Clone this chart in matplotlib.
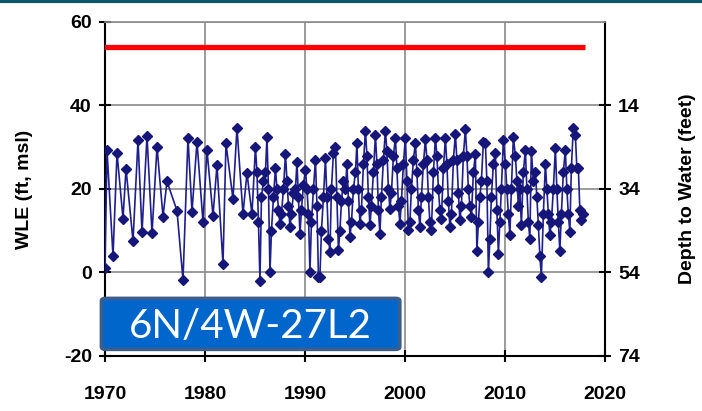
import matplotlib
matplotlib.use("Agg")
from matplotlib import pyplot as plt
from matplotlib.patches import FancyBboxPatch
from matplotlib.lines import Line2D

plt.rcParams["axes.unicode_minus"] = False

# sparse record 1969-1984 (decimal year, water level elevation ft msl)
early_dates = [1969.6, 1970.0, 1970.2, 1970.8, 1971.2, 1971.8, 1972.1, 1972.8,
               1973.3, 1973.7, 1974.2, 1974.7, 1975.2, 1975.8, 1976.2, 1977.2,
               1977.8, 1978.3, 1978.7, 1979.2, 1979.8, 1980.2, 1980.8, 1981.2,
               1981.8, 1982.1, 1982.8, 1983.2, 1983.8, 1984.2, 1984.7]
early_wle = [23, 1.0, 29.3, 3.9, 28.6, 12.9, 24.9, 7.5,
             31.7, 9.7, 32.7, 9.4, 30.1, 13.4, 21.8, 14.8,
             -1.8, 32.3, 14.5, 31.3, 12.1, 29.3, 13.6, 25.7,
             2.0, 30.9, 17.6, 34.6, 14.0, 23.8, 14.0]

# denser record from 1985, six readings a year
sample_fracs = [0.05, 0.2, 0.35, 0.5, 0.65, 0.85]
dense_wle = {
    1985: [30, 24, 12, -2, 18, 22],
    1986: [24, 32.5, 20, 0, 10, 18],
    1987: [25, 20, 15, 11.7, 14, 20],
    1988: [28.3, 22, 16, 10.9, 14, 19],
    1989: [20, 26.4, 18, 9.3, 15, 21],
    1990: [24.6, 20, 14, 0, 12, 20],
    1991: [27, 16, -1, -1, 10, 18],
    1992: [27.3, 18, 8, 5, 20, 28.7],
    1993: [30, 18, 5.3, 10, 17, 22],
    1994: [20, 26, 17, 8.5, 12, 20],
    1995: [24, 30.9, 20, 11.7, 15, 26],
    1996: [34, 28, 18, 11.3, 16, 24],
    1997: [32.9, 26, 15, 9.3, 18, 27],
    1998: [34, 29, 20, 15.2, 19, 28],
    1999: [32.3, 25, 16, 11.7, 17, 26],
    2000: [32.3, 22, 10.1, 12, 20, 27],
    2001: [31.1, 24, 15, 10.9, 18, 26],
    2002: [31.9, 27, 18, 12, 10.1, 24],
    2003: [32.3, 28, 20, 15, 12.9, 25],
    2004: [32.1, 26, 17, 10.9, 14, 27],
    2005: [33.1, 27, 19, 12.5, 16, 28],
    2006: [34.4, 28, 20, 16, 13.3, 24],
    2007: [28.3, 5.1, 12, 18, 22, 31.3],
    2008: [31, 22, 0, 8, 18, 26],
    2009: [28.7, 15, 4.5, 12, 20, 31.7],
    2010: [26, 20, 14, 8.9, 20, 32.5],
    2011: [28, 22, 16, 20, 11.3, 24],
    2012: [29.4, 20, 12, 8.1, 29, 22],
    2013: [24, 18, 11.3, 4, -1, 14],
    2014: [26, 20, 14, 8.9, 12, 20],
    2015: [29.8, 20, 12, 5.1, 14, 24],
    2016: [29.4, 20, 14, 9.8, 25, 34.7],
    2017: [33, 25, 25, 15, 12.5, 14],
}

ground_surface = 54
ground_span = [1969.7, 2018.0]
well_name = "6N/4W-27L2"
x_ticks = [1970, 1980, 1990, 2000, 2010, 2020]
y_ticks = [-20, 0, 20, 40, 60]
depth_ticks = [14, 34, 54, 74]

dates = list(early_dates)
wle = list(early_wle)
for yr, vals in dense_wle.items():
    for f, v in zip(sample_fracs, vals):
        dates.append(yr + f)
        wle.append(v)

fig = plt.figure(figsize=(7.02, 4.11), dpi=100)
ax = fig.add_axes([0.1496, 0.134, 0.712, 0.8125])

ax.plot(ground_span, [ground_surface, ground_surface], color="red", lw=3.8,
        solid_capstyle="butt", zorder=3)
ax.plot(dates, wle, color="#1e1e8c", lw=1.2, marker="D", ms=5.2,
        mfc="#15157a", mec="#15157a", zorder=4)

ax.set_xlim(1970, 2020)
ax.set_ylim(-20, 60)
ax.set_xticks(x_ticks)
ax.set_yticks(y_ticks)
ax.grid(True, color="#8a8a8a", lw=1.2)
ax.set_axisbelow(True)

for side in ["left", "bottom", "right"]:
    ax.spines[side].set_linewidth(1.5)
    ax.spines[side].set_color("black")
ax.spines["top"].set_color("#8a8a8a")
ax.spines["top"].set_linewidth(1.2)

tick_font = dict(fontweight="bold", fontsize=14, family="Liberation Sans")
ax.tick_params(direction="inout", length=9, width=1.5, pad=5)
ax.tick_params(axis="x", pad=17)
for lab in ax.get_xticklabels() + ax.get_yticklabels():
    lab.set(**tick_font)
ax.set_ylabel("WLE (ft, msl)", fontsize=14, fontweight="bold",
              family="Liberation Sans", labelpad=22)

ax2 = ax.twinx()
ax2.set_ylim(ground_surface + 20, ground_surface - 60)
ax2.set_yticks(depth_ticks)
ax2.tick_params(direction="inout", length=9, width=1.5, pad=5)
for lab in ax2.get_yticklabels():
    lab.set(**tick_font)
for side in ax2.spines:
    ax2.spines[side].set_visible(False)
ax2.set_ylabel("Depth to Water (feet)", fontsize=14, fontweight="bold",
               family="Liberation Sans", labelpad=28)

# well label box
bx, by, bw, bh = 0.1445, 0.150, 0.425, 0.124
box = FancyBboxPatch((bx, by), bw, bh, boxstyle="round,pad=0,rounding_size=0.006",
                     transform=fig.transFigure, facecolor="#0066cc",
                     edgecolor="#3c5e8c", lw=2.6, zorder=10)
fig.add_artist(box)
fig.text(bx + bw / 2, by + bh / 2 - 0.006, well_name, color="white",
         fontsize=29, family="Lato", ha="center", va="center", zorder=11)

# thin teal rule at top of slide
fig.add_artist(Line2D([0, 1], [0.997, 0.997], transform=fig.transFigure,
                      color="#0d5866", lw=3))

fig.savefig("out.png", dpi=100)
